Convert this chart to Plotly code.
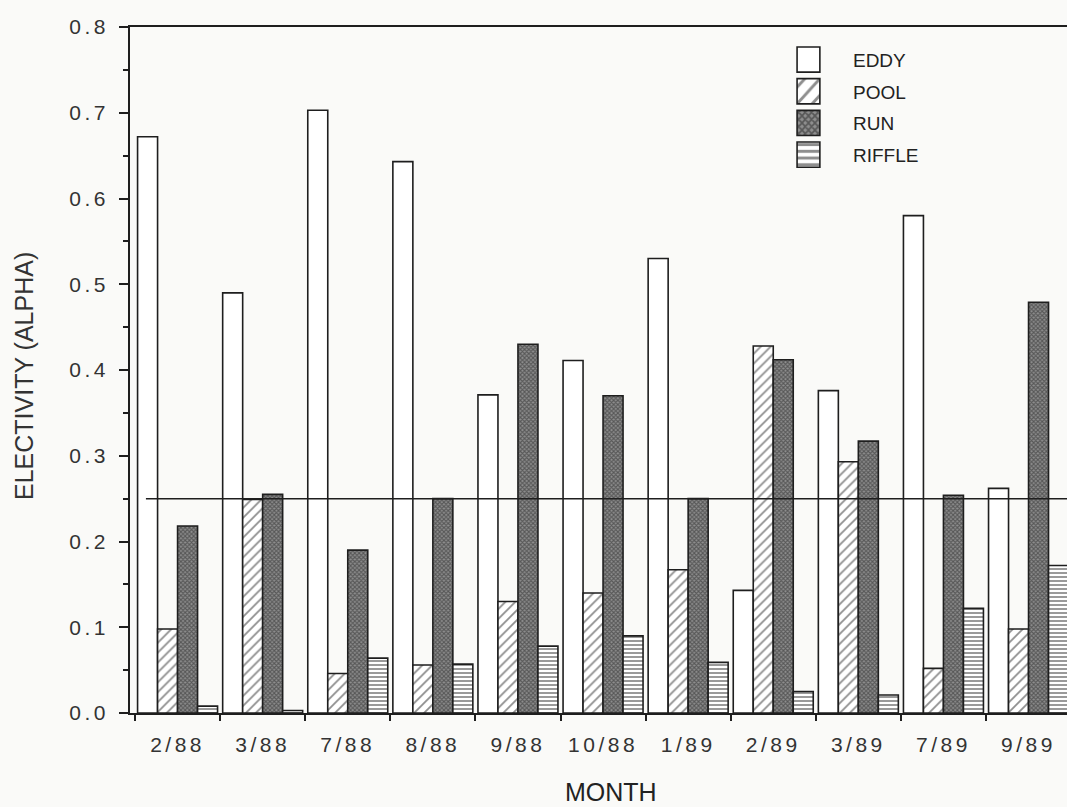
import plotly.graph_objects as go

# Habitat electivity (Chesson's alpha) by sampling month
months = ["2/88", "3/88", "7/88", "8/88", "9/88", "10/88",
          "1/89", "2/89", "3/89", "7/89", "9/89"]
eddy = [0.672, 0.490, 0.703, 0.643, 0.371, 0.411, 0.530, 0.143, 0.376, 0.580, 0.262]
pool = [0.098, 0.249, 0.046, 0.056, 0.130, 0.140, 0.167, 0.428, 0.293, 0.052, 0.098]
run = [0.218, 0.255, 0.190, 0.250, 0.430, 0.370, 0.250, 0.412, 0.317, 0.254, 0.479]
riffle = [0.008, 0.003, 0.064, 0.057, 0.078, 0.090, 0.059, 0.025, 0.021, 0.122, 0.172]

# neutral selection level for four habitat types (1/4)
NEUTRAL = 0.25

INK = "#1e1e1e"
TXT = "#333333"
FONT = "Liberation Sans, Arial, sans-serif"

styles = {
    "EDDY": dict(color="#ffffff"),
    "POOL": dict(color="#ffffff",
                 pattern=dict(shape="/", size=7, solidity=0.26,
                              fgcolor=INK, bgcolor="#ffffff")),
    "RUN": dict(color="#4a4a4a",
                pattern=dict(shape="x", size=3, solidity=0.6,
                             fgcolor="#222222", bgcolor="#8e8e8e")),
    "RIFFLE": dict(color="#ffffff",
                   pattern=dict(shape="-", size=4, solidity=0.45,
                                fgcolor=INK, bgcolor="#ffffff")),
}
series = [("EDDY", eddy), ("POOL", pool), ("RUN", run), ("RIFFLE", riffle)]

fig = go.Figure()
for name, vals in series:
    fig.add_trace(go.Bar(
        x=months, y=vals, name=name, legendgroup=name,
        marker=dict(**styles[name], line=dict(color=INK, width=1.6)),
    ))

fig.add_shape(type="line", xref="paper", yref="y",
              x0=0.017, x1=1, y0=NEUTRAL, y1=NEUTRAL,
              line=dict(color=INK, width=1.5), layer="above")

fig.add_annotation(text="ELECTIVITY (ALPHA)", xref="paper", yref="paper",
                   x=0, y=0.5, xshift=-106, yshift=-6, textangle=-90,
                   showarrow=False, xanchor="center", yanchor="middle",
                   font=dict(family=FONT, size=25, color=TXT))
fig.add_annotation(text="MONTH", xref="paper", yref="paper",
                   x=0.5, y=0, xshift=12, yshift=-79,
                   showarrow=False, xanchor="center", yanchor="middle",
                   font=dict(family=FONT, size=25, color="#222222"))

fig.update_layout(
    width=1067, height=807,
    margin=dict(l=130, r=0, t=27, b=94),
    paper_bgcolor="#fafaf8", plot_bgcolor="#fafaf8",
    barmode="group", bargap=0.06, bargroupgap=0,
    showlegend=True,
    legend=dict(x=0.6766, y=0.98, xanchor="left", yanchor="top",
                bgcolor="rgba(0,0,0,0)", itemwidth=79, tracegroupgap=4,
                font=dict(family=FONT, size=19, color="#222222")),
    font=dict(family=FONT, color=TXT),
)
fig.update_xaxes(
    range=[-0.559, 10.452], tickson="boundaries",
    ticks="outside", ticklen=6, tickwidth=1.5, tickcolor=INK,
    showline=True, linecolor=INK, linewidth=1.5, mirror=True,
    showgrid=False, zeroline=False, ticklabelstandoff=12,
    tickfont=dict(family=FONT, size=21, color=TXT),
)
fig.update_yaxes(
    range=[0, 0.8], dtick=0.1, tick0=0, tickformat=".1f",
    ticks="outside", ticklen=9, tickwidth=1.5, tickcolor=INK,
    minor=dict(dtick=0.05, ticks="outside", ticklen=5, tickwidth=1.5, tickcolor=INK),
    showline=True, linecolor=INK, linewidth=1.5,
    showgrid=False, zeroline=False, ticklabelstandoff=6,
    tickfont=dict(family=FONT, size=21, color=TXT),
)

# larger legend swatches and wider-spaced tick lettering
post = """
var gd = document.getElementById('{plot_id}');
gd.querySelectorAll('.legendpoints path').forEach(function(p){
  var t = p.getAttribute('transform') || '';
  p.setAttribute('transform', t + ' scale(1.9,2.1)');
  p.setAttribute('vector-effect', 'non-scaling-stroke');
});
gd.querySelectorAll('.xtick text, .ytick text').forEach(function(t){
  t.style.letterSpacing = '3.5px';
});
"""
fig.write_html("out.html", post_script=post)
